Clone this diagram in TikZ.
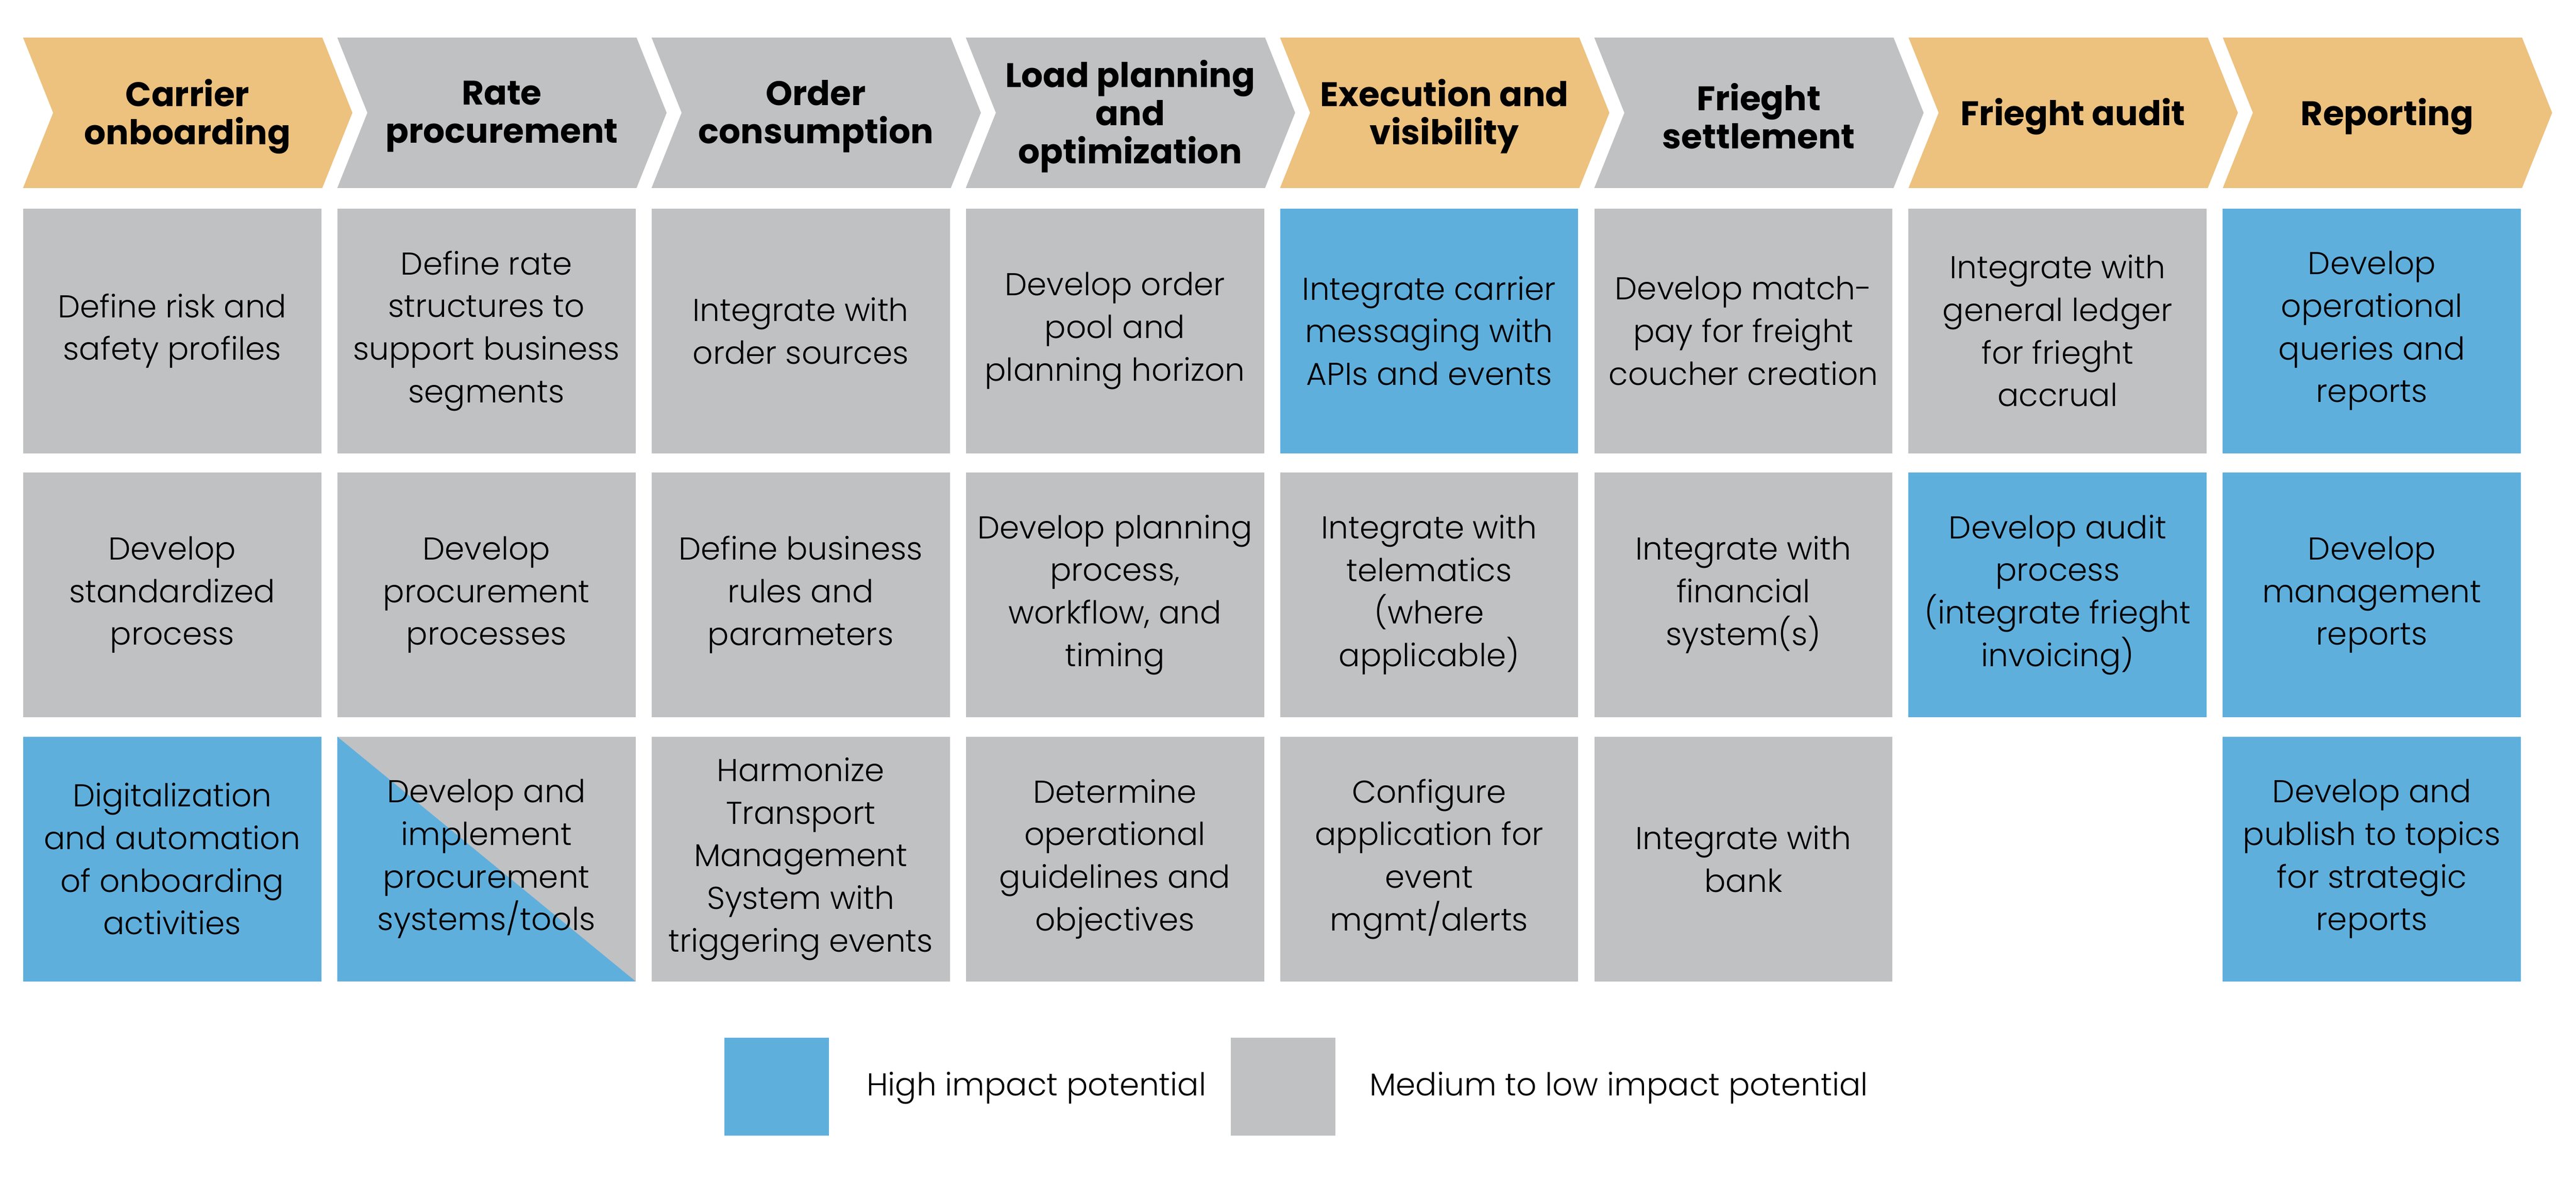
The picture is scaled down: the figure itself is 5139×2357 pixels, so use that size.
\documentclass[tikz,border=0pt]{standalone}
\usepackage{fontspec}
\setmainfont{Poppins}
\newfontfamily\lightfont{Poppins Light}
\definecolor{cor}{HTML}{EDC17E}
\definecolor{cgr}{HTML}{C0C1C3}
\definecolor{cbl}{HTML}{5FAFDD}
\tikzset{
  box/.style={minimum width=59.5pt, minimum height=48.8pt, inner sep=0pt, outer sep=0pt, align=center,
    font=\lightfont\fontsize{6.3pt}{8.5pt}\selectfont},
  hdr/.style={align=center, inner sep=0pt, font=\bfseries\fontsize{6.8pt}{7.6pt}\selectfont},
  leg/.style={minimum width=20.9pt, minimum height=19.5pt, inner sep=0pt, outer sep=0pt},
  legtext/.style={anchor=west, inner sep=0pt, font=\lightfont\fontsize{6.3pt}{8.5pt}\selectfont},
}
\newcommand\chev[4]{%
  \fill[#2] (#1,75) -- ++(597,0) -- ++(60,150) -- ++(-60,150) -- ++(-597,0) -- ++(60,-150) -- cycle;
  \node[hdr] (#3) at (#1+328,232) {#4};
}
\begin{document}
\begin{tikzpicture}[x=0.1pt,y=-0.1pt]
\useasboundingbox (0,0) rectangle (5139,2357);
\fill[white] (0,0) rectangle (5139,2357);
% headers
\chev{46}{cor}{h1}{Carrier\\onboarding}
\chev{672.9}{cgr}{h2}{Rate\\procurement}
\chev{1299.8}{cgr}{h3}{Order\\consumption}
\chev{1926.7}{cgr}{h4}{Load planning\\and\\optimization}
\chev{2553.6}{cor}{h5}{Execution and\\visibility}
\chev{3180.5}{cgr}{h6}{Frieght\\settlement}
\chev{3807.4}{cor}{h7}{Frieght audit}
\chev{4434.3}{cor}{h8}{Reporting}
% column 1
\node[box, fill=cgr] (b11) at (343.5,660) {Define risk and\\safety profiles};
\node[box, fill=cgr] (b12) at (343.5,1186.5) {Develop\\standardized\\process};
\node[box, fill=cbl] (b13) at (343.5,1713.5) {Digitalization\\and automation\\of onboarding\\activities};
% column 2
\node[box, fill=cgr] (b21) at (970.4,660) {Define rate\\structures to\\support business\\segments};
\node[box, fill=cgr] (b22) at (970.4,1186.5) {Develop\\procurement\\processes};
\node[box, fill=cgr, path picture={\fill[cbl] (path picture bounding box.north west) -- (path picture bounding box.south west) -- (path picture bounding box.south east) -- cycle;}] (b23) at (970.4,1713.5) {Develop and\\implement\\procurement\\systems/tools};
% column 3
\node[box, fill=cgr] (b31) at (1597.3,660) {Integrate with\\order sources};
\node[box, fill=cgr] (b32) at (1597.3,1186.5) {Define business\\rules and\\parameters};
\node[box, fill=cgr] (b33) at (1597.3,1713.5) {Harmonize\\Transport\\Management\\System with\\triggering events};
% column 4
\node[box, fill=cgr] (b41) at (2224.2,660) {Develop order\\pool and\\planning horizon};
\node[box, fill=cgr] (b42) at (2224.2,1186.5) {Develop planning\\process,\\workflow, and\\timing};
\node[box, fill=cgr] (b43) at (2224.2,1713.5) {Determine\\operational\\guidelines and\\objectives};
% column 5
\node[box, fill=cbl] (b51) at (2851.1,660) {Integrate carrier\\messaging with\\APIs and events};
\node[box, fill=cgr] (b52) at (2851.1,1186.5) {Integrate with\\telematics\\(where\\applicable)};
\node[box, fill=cgr] (b53) at (2851.1,1713.5) {Configure\\application for\\event\\mgmt/alerts};
% column 6
\node[box, fill=cgr] (b61) at (3478,660) {Develop match-\\pay for freight\\coucher creation};
\node[box, fill=cgr] (b62) at (3478,1186.5) {Integrate with\\financial\\system(s)};
\node[box, fill=cgr] (b63) at (3478,1713.5) {Integrate with\\bank};
% column 7
\node[box, fill=cgr] (b71) at (4104.9,660) {Integrate with\\general ledger\\for frieght\\accrual};
\node[box, fill=cbl] (b72) at (4104.9,1186.5) {Develop audit\\process\\(integrate frieght\\invoicing)};
% column 8
\node[box, fill=cbl] (b81) at (4731.8,660) {Develop\\operational\\queries and\\reports};
\node[box, fill=cbl] (b82) at (4731.8,1186.5) {Develop\\management\\reports};
\node[box, fill=cbl] (b83) at (4731.8,1713.5) {Develop and\\publish to topics\\for strategic\\reports};
% legend
\node[leg, fill=cbl] (lb) at (1549.5,2167.5) {};
\node[legtext] (lbt) at (1727,2170) {High impact potential};
\node[leg, fill=cgr] (lg) at (2559.5,2167.5) {};
\node[legtext] (lgt) at (2730,2170) {Medium to low impact potential};
\end{tikzpicture}
\end{document}
